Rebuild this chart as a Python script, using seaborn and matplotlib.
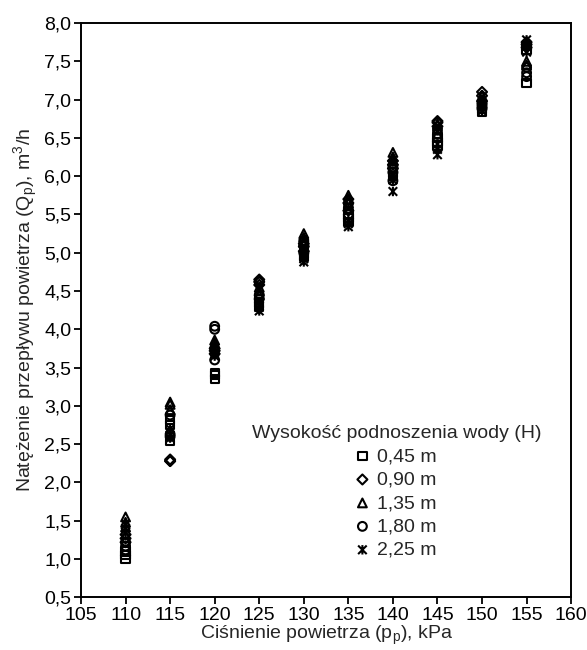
import numpy as np
import pandas as pd
import matplotlib
matplotlib.use('Agg')
import matplotlib.pyplot as plt
from matplotlib.path import Path
from matplotlib.ticker import FuncFormatter, MultipleLocator
import seaborn as sns

# cisnienie powietrza, kPa
pressure = [110, 115, 120, 125, 130, 135, 140, 145, 150, 155]

# natezenie przeplywu, 3 powtorzenia na kazde cisnienie
q_045 = [[1.00, 1.05, 1.10], [2.55, 2.75, 2.82], [3.35, 3.40, 3.43], [4.30, 4.35, 4.40], [4.95, 4.98, 5.02],
         [5.40, 5.45, 5.50], [6.00, 6.05, 6.10], [6.40, 6.45, 6.50], [6.84, 6.88, 6.92], [7.22, 7.65, 7.70]]
q_090 = [[1.22, 1.27, 1.32], [2.28, 2.28, 2.30], [3.68, 3.72, 3.75], [4.58, 4.62, 4.65], [5.02, 5.08, 5.12],
         [5.55, 5.65, 5.70], [6.10, 6.15, 6.20], [6.65, 6.70, 6.72], [6.98, 7.05, 7.10], [7.68, 7.72, 7.75]]
q_135 = [[1.42, 1.48, 1.55], [2.95, 3.02, 3.05], [3.78, 3.82, 3.86], [4.45, 4.50, 4.55], [5.15, 5.20, 5.25],
         [5.65, 5.70, 5.75], [6.20, 6.25, 6.31], [6.55, 6.62, 6.68], [6.95, 7.00, 7.05], [7.45, 7.50, 7.72]]
q_180 = [[1.12, 1.17, 1.22], [2.60, 2.63, 2.88], [3.60, 4.00, 4.04], [4.40, 4.45, 4.62], [5.00, 5.10, 5.16],
         [5.50, 5.58, 5.64], [5.94, 6.05, 6.12], [6.50, 6.55, 6.60], [6.88, 6.92, 6.96], [7.30, 7.35, 7.42]]
q_225 = [[1.35, 1.40, 1.45], [2.58, 2.62, 2.70], [3.65, 3.70, 3.75], [4.24, 4.30, 4.35], [4.88, 4.92, 4.96],
         [5.34, 5.38, 5.42], [5.80, 5.95, 6.00], [6.28, 6.35, 6.42], [6.85, 6.90, 6.95], [7.62, 7.72, 7.78]]

labels = ['0,45 m', '0,90 m', '1,35 m', '1,80 m', '2,25 m']
series = [q_045, q_090, q_135, q_180, q_225]

# marker "ж" - krzyzyk z pionowa kreska
zh = Path([(-1, -1), (1, 1), (-1, 1), (1, -1), (0, -1.1), (0, 1.1)],
          [Path.MOVETO, Path.LINETO, Path.MOVETO, Path.LINETO, Path.MOVETO, Path.LINETO])
markers = ['s', 'D', '^', 'o', zh]
sizes = [36, 26, 40, 40, 46]

sns.set_style('ticks')
plt.rcParams['font.family'] = ['Liberation Sans', 'DejaVu Sans']
plt.rcParams['mathtext.fontset'] = 'custom'
plt.rcParams['mathtext.rm'] = 'Liberation Sans'
plt.rcParams['mathtext.it'] = 'Liberation Sans'

fs = 14

fig = plt.figure(figsize=(5.87, 6.5), dpi=100)
ax = fig.add_axes([0.138, 0.081, 0.835, 0.8836])

for lab, vals, m, s in zip(labels, series, markers, sizes):
    df = pd.DataFrame({'p': np.repeat(pressure, 3), 'q': np.array(vals).ravel()})
    sns.scatterplot(data=df, x='p', y='q', marker=m, s=s, facecolor='none',
                    edgecolor='black', linewidth=1.5, label=lab, ax=ax)

ax.set_xlim(105, 160)
ax.set_ylim(0.5, 8.0)
ax.xaxis.set_major_locator(MultipleLocator(5))
ax.yaxis.set_major_locator(MultipleLocator(0.5))
ax.yaxis.set_major_formatter(FuncFormatter(lambda v, pos: f'{v:.1f}'.replace('.', ',')))
ax.tick_params(labelsize=fs, color='black', length=5, width=1.3, labelcolor='black', pad=2)
for sp in ax.spines.values():
    sp.set_visible(True)
    sp.set_linewidth(1.4)
    sp.set_color('black')

ax.set_xlabel('Ciśnienie powietrza (p$_\\mathrm{p}$), kPa', fontsize=fs, labelpad=0)
ax.set_ylabel('Natężenie przepływu powietrza (Q$_\\mathrm{p}$), m$^3$/h', fontsize=fs, labelpad=3)

leg = ax.legend(title='Wysokość podnoszenia wody (H)', loc='lower right',
                bbox_to_anchor=(0.96, 0.05), frameon=False, fontsize=fs, title_fontsize=fs,
                handlelength=0.5, handletextpad=0.5, labelspacing=0.3, borderpad=0)

fig.savefig('out.png', dpi=100)
